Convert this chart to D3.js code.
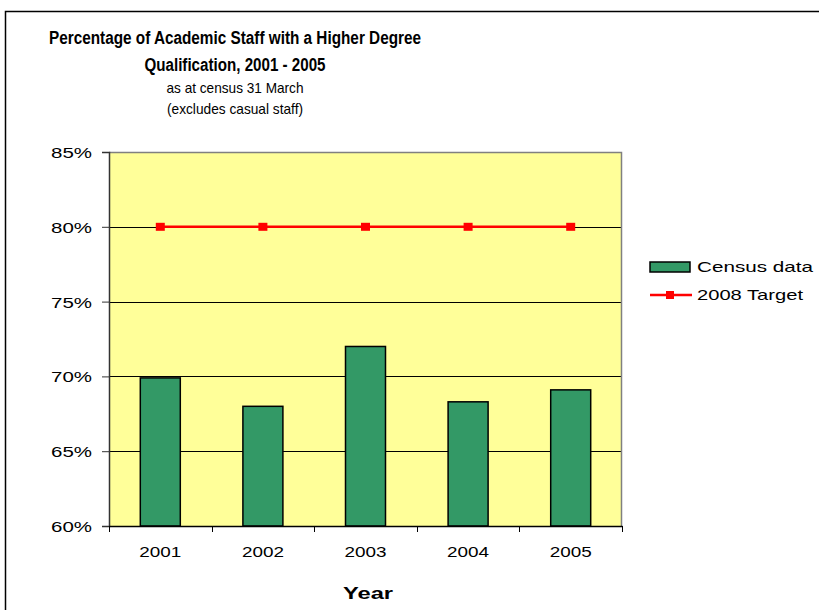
<!DOCTYPE html>
<html><head><meta charset="utf-8">
<script src="https://cdn.jsdelivr.net/npm/d3@7"></script>
<style>body{margin:0;background:#fff}svg{display:block;font-family:"Liberation Sans",Arial,sans-serif}</style>
</head><body>
<script>
const years = ["2001","2002","2003","2004","2005"];
const census = [69.9, 68.0, 72.0, 68.3, 69.1];
const target = [80, 80, 80, 80, 80];
const yTicks = [60, 65, 70, 75, 80, 85];
const titleLines = ["Percentage of Academic Staff with a Higher Degree","Qualification, 2001 - 2005","as at census 31 March","(excludes casual staff)"];
const legendLabels = ["Census data","2008 Target"];

const W=819,H=610;
const svg=d3.select("body").append("svg").attr("width",W).attr("height",H);
// outer frame
svg.append("path").attr("d","M5.5,610 V11.5 H819").attr("fill","none").attr("stroke","#000").attr("stroke-width",1.5);

const L=109,R=622,T=152,B=526;
const x=d3.scaleBand().domain(years).range([L,R]);
const y=d3.scaleLinear().domain([60,85]).range([B,T]);

svg.append("rect").attr("x",L).attr("y",T).attr("width",R-L).attr("height",B-T).attr("fill","#FFFF99");
// gridlines
svg.append("g").selectAll("line").data(yTicks.slice(1,-1)).join("line")
 .attr("x1",L).attr("x2",R).attr("y1",d=>Math.round(y(d))+0.5).attr("y2",d=>Math.round(y(d))+0.5)
 .attr("stroke","#000").attr("stroke-width",1);
// plot border top/right
svg.append("path").attr("d",`M${L},${T+0.5} H${R-0.5} V${B}`).attr("fill","none").attr("stroke","#808080").attr("stroke-width",1.5);

// bars
const bw=40;
svg.append("g").selectAll("rect").data(census).join("rect")
 .attr("x",(d,i)=>x(years[i])+x.bandwidth()/2-bw/2).attr("width",bw)
 .attr("y",d=>y(d)).attr("height",d=>B-y(d))
 .attr("fill","#339966").attr("stroke","#000").attr("stroke-width",1.5);

// y axis
const ya=svg.append("g").attr("transform",`translate(${L},0)`).call(d3.axisLeft(y).tickValues(yTicks).tickSize(7).tickFormat(d=>d+"%"));
ya.select(".domain").attr("stroke","#333").attr("stroke-width",1.5);
ya.selectAll(".tick line").attr("stroke","#333");
ya.selectAll("text").attr("font-size",15).attr("fill","#000").attr("x",-17).attr("dy","0.36em")
  .attr("textLength",41).attr("lengthAdjust","spacingAndGlyphs").attr("font-family","Liberation Sans, Arial");

// x axis
const xa=svg.append("g").attr("transform",`translate(0,${B})`).call(d3.axisBottom(x).tickSize(0).tickPadding(20));
xa.select(".domain").attr("stroke","#000").attr("stroke-width",1.5);
xa.selectAll("text").attr("font-size",15).attr("fill","#000").attr("dy","0.71em")
  .attr("textLength",42).attr("lengthAdjust","spacingAndGlyphs").attr("font-family","Liberation Sans, Arial");
// boundary ticks
const bounds=years.map(d=>x(d)).concat([R]);
svg.append("g").selectAll("line").data(bounds).join("line")
 .attr("x1",d=>Math.round(d)+0.5).attr("x2",d=>Math.round(d)+0.5).attr("y1",B).attr("y2",B+6)
 .attr("stroke","#000").attr("stroke-width",1);

// target line
const line=d3.line().x((d,i)=>x(years[i])+x.bandwidth()/2).y(d=>y(d));
svg.append("path").datum(target).attr("d",line).attr("fill","none").attr("stroke","#FF0000").attr("stroke-width",2.5);
svg.append("g").selectAll("rect").data(target).join("rect")
 .attr("x",(d,i)=>x(years[i])+x.bandwidth()/2-4.5).attr("y",d=>y(d)-4).attr("width",9).attr("height",8).attr("fill","#FF0000");

// title
const tspec=[{y:44,s:18,w:"bold",len:372},{y:71,s:18,w:"bold",len:181},{y:92.5,s:15,w:"normal",len:137},{y:114,s:15,w:"normal",len:136}];
svg.append("g").selectAll("text").data(titleLines).join("text")
 .attr("x",235).attr("y",(d,i)=>tspec[i].y).attr("text-anchor","middle")
 .attr("font-size",(d,i)=>tspec[i].s).attr("font-weight",(d,i)=>tspec[i].w)
 .attr("textLength",(d,i)=>tspec[i].len).attr("lengthAdjust","spacingAndGlyphs").text(d=>d);

// axis title
svg.append("text").attr("x",368).attr("y",599).attr("text-anchor","middle").attr("font-size",16).attr("font-weight","bold")
 .attr("textLength",50).attr("lengthAdjust","spacingAndGlyphs").text("Year");

// legend
const lg=svg.append("g");
lg.append("rect").attr("x",650).attr("y",262).attr("width",40).attr("height",10).attr("fill","#339966").attr("stroke","#000").attr("stroke-width",1.5);
lg.append("line").attr("x1",650).attr("x2",692).attr("y1",295).attr("y2",295).attr("stroke","#FF0000").attr("stroke-width",2.5);
lg.append("rect").attr("x",666).attr("y",291).attr("width",8).attr("height",8).attr("fill","#FF0000");
lg.selectAll("text").data(legendLabels).join("text").attr("x",697).attr("y",(d,i)=>i?300:272)
 .attr("font-size",15).attr("textLength",(d,i)=>i?106:116).attr("lengthAdjust","spacingAndGlyphs").text(d=>d);
</script>
</body></html>
